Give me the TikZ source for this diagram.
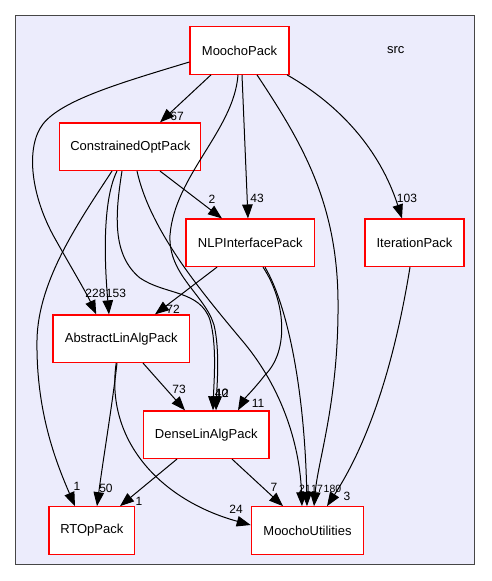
\documentclass[tikz,border=0pt]{standalone}
\usepackage{fontspec}
\setmainfont{Liberation Sans}
\usetikzlibrary{arrows.meta}
\definecolor{clfill}{RGB}{236,236,252}
\definecolor{clborder}{RGB}{70,70,70}
\begin{document}
\begin{tikzpicture}[x=1pt,y=-1pt,
  pkg/.style={draw=red, fill=white, line width=1.2pt, minimum height=47.5pt, inner sep=0pt, font=\fontsize{13}{15}\selectfont},
  dep/.style={line width=1pt, -{Triangle[length=14pt,width=10.5pt]}},
  lbl/.style={font=\fontsize{12}{14}\selectfont, inner sep=0pt},
  slbl/.style={font=\fontsize{10.5}{12}\selectfont, inner sep=0pt},
]
\useasboundingbox[fill=white] (0,0) rectangle (491,581);
\draw[fill=clfill, draw=clborder, line width=1.2pt] (15.7,15.7) rectangle (474.3,564.5);
\node[font=\fontsize{13}{15}\selectfont] (src) at (395.7,49.7) {src};

\node[pkg, minimum width=99pt] (mp) at (239.5,50.5) {MoochoPack};
\node[pkg, minimum width=141pt] (cop) at (130.3,146.7) {ConstrainedOptPack};
\node[pkg, minimum width=128.7pt] (nlp) at (250.3,242.8) {NLPInterfacePack};
\node[pkg, minimum width=99pt] (it) at (414.5,242.8) {IterationPack};
\node[pkg, minimum width=136.3pt] (ala) at (121.2,338.7) {AbstractLinAlgPack};
\node[pkg, minimum width=125.3pt] (dla) at (206.3,434.7) {DenseLinAlgPack};
\node[pkg, minimum width=85.7pt] (rt) at (91.8,530.5) {RTOpPack};
\node[pkg, minimum width=112.4pt] (mu) at (307.5,530.5) {MoochoUtilities};

% MoochoPack edges
\draw[dep] ([xshift=-28.5pt]mp.south) -- ([xshift=29.7pt]cop.north);
\draw[dep] ([yshift=-11.5pt]mp.west) .. controls (120,83) and (62,100) .. (43,124)
  .. controls (26,146) and (30,192) .. (53,235)
  .. controls (68,262) and (86,292) .. ([xshift=-25pt]ala.north);
\draw[dep] ([xshift=-1.5pt]mp.south) .. controls (234,130) and (175,175) .. (170,235)
  .. controls (168,275) and (205,295) .. (214,325)
  .. controls (220,350) and (217,385) .. ([xshift=9.7pt]dla.north);
\draw[dep] ([xshift=2.5pt]mp.south) -- ([xshift=-2.3pt]nlp.north);
\draw[dep] ([xshift=17.5pt]mp.south) .. controls (300,140) and (337,200) .. (338,300)
  .. controls (339,400) and (318,460) .. ([xshift=6.5pt]mu.north);
\draw[dep] ([xshift=47.5pt]mp.south) .. controls (340,105) and (380,150) .. ([xshift=-12.5pt]it.north);

% ConstrainedOptPack edges
\draw[dep] ([xshift=-13.3pt]cop.south) .. controls (100,205) and (106,280) .. ([xshift=-12.2pt]ala.north);
\draw[dep] ([xshift=-18.3pt]cop.south) .. controls (80,220) and (38,280) .. (37,340)
  .. controls (36,410) and (55,460) .. ([xshift=-16.8pt]rt.north);
\draw[dep] ([xshift=-8.3pt]cop.south) .. controls (115,215) and (112,255) .. (140,278)
  .. controls (165,295) and (200,290) .. (210,320)
  .. controls (217,345) and (214,380) .. ([xshift=6.7pt]dla.north);
\draw[dep] ([xshift=6.7pt]cop.south) .. controls (150,230) and (200,290) .. (240,338)
  .. controls (285,390) and (300,450) .. ([xshift=-5.5pt]mu.north);
\draw[dep] ([xshift=29.7pt]cop.south) -- ([xshift=-28.3pt]nlp.north);

% NLPInterfacePack edges
\draw[dep] ([xshift=14.7pt]nlp.south) .. controls (290,310) and (305,400) .. ([xshift=-0.5pt]mu.north);
\draw[dep] ([xshift=12.7pt]nlp.south) .. controls (285,300) and (290,350) .. (265,375)
  .. controls (255,388) and (245,398) .. ([xshift=31.7pt]dla.north);
\draw[dep] ([xshift=-33.3pt]nlp.south) -- ([xshift=33.8pt]ala.north);

% IterationPack edge
\draw[dep] ([xshift=-4.5pt]it.south) .. controls (395,360) and (370,440) .. ([xshift=19.5pt]mu.north);

% AbstractLinAlgPack edges
\draw[dep] ([xshift=21.8pt]ala.south) -- ([xshift=-21.3pt]dla.north);
\draw[dep] ([xshift=-4.2pt]ala.south) .. controls (113,400) and (103,460) .. ([xshift=5.2pt]rt.north);
\draw[dep] ([xshift=-5pt]ala.south) .. controls (105,440) and (160,500) .. ([yshift=5.5pt]mu.west);

% DenseLinAlgPack edges
\draw[dep] ([xshift=-29.3pt]dla.south) -- ([xshift=28.2pt]rt.north);
\draw[dep] ([xshift=25.7pt]dla.south) -- ([xshift=-24.5pt]mu.north);

% labels
\node[lbl] (l67) at (177,116) {67};
\node[lbl] (l228) at (95.5,293) {228};
\node[lbl] (l153) at (116,293) {153};
\node[lbl] (l1a) at (77,486) {1};
\node[lbl] (l40) at (221.5,393) {40};
\node[lbl] (l12) at (222,393.5) {12};
\node[slbl] (l21) at (305,488.5) {21};
\node[slbl] (l17) at (317,488.5) {17};
\node[slbl] (l180) at (332.5,489) {180};
\node[lbl] (l11) at (258,403) {11};
\node[lbl] (l3) at (347,496.5) {3};
\node[lbl] (l103) at (407,198) {103};
\node[lbl] (l43) at (257,198) {43};
\node[lbl] (l2) at (212,199) {2};
\node[lbl] (l72) at (173,309) {72};
\node[lbl] (l73) at (179,389) {73};
\node[lbl] (l50) at (106,488) {50};
\node[lbl] (l24) at (236,509) {24};
\node[lbl] (l1b) at (139,501) {1};
\node[lbl] (l7) at (274,487) {7};
\end{tikzpicture}
\end{document}
